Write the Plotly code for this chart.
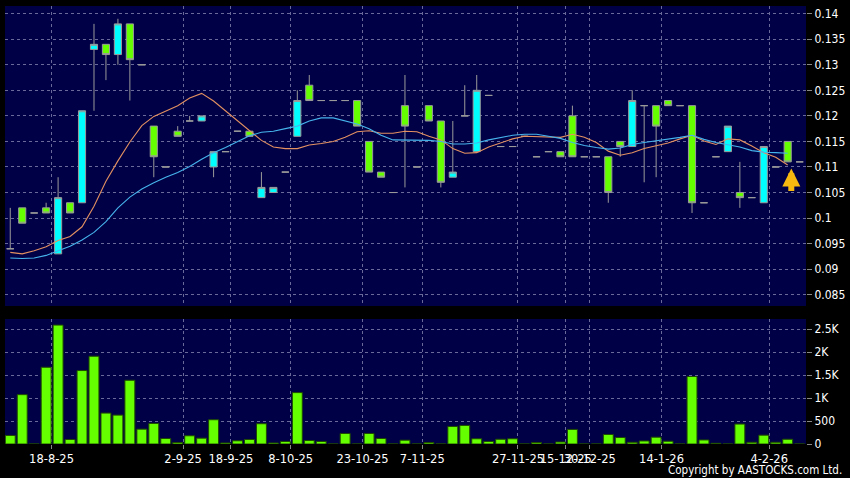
import plotly.graph_objects as go

# ---------------- data ----------------
bars = list(range(1, 68))

opens = [0.094, 0.102, 0.101, 0.102, 0.093, 0.103, 0.103, 0.133, 0.134, 0.132,
         0.138, 0.130, 0.118, 0.110, 0.117, 0.119, 0.119, 0.110, 0.113, 0.117,
         0.117, 0.104, 0.105, 0.109, 0.116, 0.126, 0.123, 0.123, 0.123, 0.123,
         0.115, 0.109, 0.105, 0.122, 0.110, 0.122, 0.119, 0.108, 0.120, 0.113,
         0.124, 0.114, 0.114, 0.116, 0.112, 0.113, 0.113, 0.120, 0.112, 0.112,
         0.112, 0.115, 0.114, 0.122, 0.122, 0.123, 0.122, 0.122, 0.103, 0.112,
         0.113, 0.105, 0.104, 0.103, 0.110, 0.115, 0.111]
highs = [0.102, 0.102, 0.101, 0.103, 0.108, 0.103, 0.121, 0.138, 0.134, 0.139,
         0.138, 0.130, 0.118, 0.110, 0.118, 0.120, 0.120, 0.113, 0.113, 0.117,
         0.117, 0.109, 0.106, 0.109, 0.125, 0.128, 0.123, 0.123, 0.123, 0.123,
         0.115, 0.109, 0.105, 0.128, 0.110, 0.122, 0.119, 0.119, 0.126, 0.128,
         0.124, 0.114, 0.114, 0.116, 0.112, 0.113, 0.113, 0.122, 0.112, 0.112,
         0.112, 0.115, 0.125, 0.122, 0.122, 0.123, 0.122, 0.122, 0.103, 0.112,
         0.118, 0.111, 0.104, 0.114, 0.110, 0.115, 0.111]
lows = [0.094, 0.099, 0.101, 0.101, 0.093, 0.101, 0.103, 0.121, 0.127, 0.130,
        0.123, 0.130, 0.108, 0.110, 0.116, 0.119, 0.119, 0.108, 0.113, 0.117,
        0.116, 0.104, 0.105, 0.109, 0.116, 0.123, 0.123, 0.123, 0.123, 0.118,
        0.109, 0.108, 0.105, 0.106, 0.110, 0.119, 0.106, 0.108, 0.120, 0.113,
        0.124, 0.114, 0.114, 0.116, 0.112, 0.113, 0.112, 0.112, 0.112, 0.112,
        0.103, 0.112, 0.114, 0.107, 0.108, 0.122, 0.122, 0.101, 0.103, 0.112,
        0.113, 0.102, 0.104, 0.103, 0.110, 0.111, 0.111]
closes = [0.094, 0.099, 0.101, 0.101, 0.104, 0.101, 0.121, 0.134, 0.132, 0.138,
          0.131, 0.130, 0.112, 0.110, 0.116, 0.119, 0.120, 0.113, 0.113, 0.117,
          0.116, 0.106, 0.106, 0.109, 0.123, 0.123, 0.123, 0.123, 0.123, 0.118,
          0.109, 0.108, 0.105, 0.118, 0.110, 0.119, 0.107, 0.109, 0.120, 0.125,
          0.124, 0.114, 0.114, 0.116, 0.112, 0.113, 0.112, 0.112, 0.112, 0.112,
          0.105, 0.114, 0.123, 0.122, 0.118, 0.122, 0.122, 0.103, 0.103, 0.112,
          0.118, 0.104, 0.104, 0.114, 0.110, 0.111, 0.111]
volumes = [186, 1074, 0, 1670, 2587, 98, 1598, 1910, 673, 629,
           1387, 323, 448, 120, 33, 179, 127, 528, 22, 70,
           98, 441, 22, 55, 1118, 76, 55, 0, 229, 0,
           229, 120, 0, 83, 0, 33, 0, 382, 404, 114,
           55, 103, 114, 0, 33, 0, 44, 317, 0, 0,
           207, 141, 37, 66, 148, 60, 0, 1469, 88, 15,
           0, 434, 37, 192, 37, 103, 0]
ma_fast = [0.0933, 0.0930, 0.0936, 0.0944, 0.0956, 0.0964, 0.0983, 0.1023, 0.1072, 0.1112,
           0.1149, 0.1181, 0.1199, 0.1210, 0.1220, 0.1235, 0.1244, 0.1229, 0.1210, 0.1190,
           0.1172, 0.1152, 0.1139, 0.1136, 0.1136, 0.1143, 0.1146, 0.1150, 0.1158, 0.1169,
           0.1171, 0.1166, 0.1166, 0.1170, 0.1169, 0.1160, 0.1153, 0.1136, 0.1127, 0.1128,
           0.1139, 0.1147, 0.1155, 0.1160, 0.1159, 0.1159, 0.1158, 0.1164, 0.1158, 0.1148,
           0.1131, 0.1123, 0.1128, 0.1136, 0.1141, 0.1147, 0.1155, 0.1162, 0.1151, 0.1144,
           0.1155, 0.1153, 0.1141, 0.1128, 0.1119, 0.1104, None]
ma_slow = [0.0922, 0.0921, 0.0922, 0.0927, 0.0936, 0.0945, 0.0957, 0.0972, 0.0993, 0.1020,
           0.1041, 0.1057, 0.1069, 0.1080, 0.1089, 0.1101, 0.1115, 0.1128, 0.1138, 0.1150,
           0.1161, 0.1168, 0.1170, 0.1175, 0.1180, 0.1190, 0.1196, 0.1196, 0.1190, 0.1184,
           0.1175, 0.1162, 0.1153, 0.1153, 0.1153, 0.1152, 0.1150, 0.1145, 0.1145, 0.1147,
           0.1153, 0.1158, 0.1162, 0.1164, 0.1164, 0.1160, 0.1156, 0.1148, 0.1142, 0.1138,
           0.1135, 0.1137, 0.1144, 0.1148, 0.1151, 0.1154, 0.1158, 0.1162, 0.1154, 0.1148,
           0.1143, 0.1139, 0.1132, 0.1129, 0.1128, 0.1127, None]

tick_bars = [4, 15, 19, 24, 30, 35, 43, 47, 49, 55, 64]
tick_labels = ["18-8-25", "2-9-25", "18-9-25", "8-10-25", "23-10-25", "7-11-25",
               "27-11-25", "15-12-25", "30-12-25", "14-1-26", "4-2-26"]
price_ticks = [0.085, 0.09, 0.095, 0.1, 0.105, 0.11, 0.115, 0.12, 0.125, 0.13, 0.135, 0.14]
price_tick_labels = ["0.085", "0.09", "0.095", "0.1", "0.105", "0.11", "0.115",
                     "0.12", "0.125", "0.13", "0.135", "0.14"]
vol_ticks = [0, 500, 1000, 1500, 2000, 2500]
vol_tick_labels = ["0", "500", "1K", "1.5K", "2K", "2.5K"]
arrow_bar = 66.3
arrow_price = 0.1097

# ---------------- styling ----------------
BG = "#000046"
GRID = "#6a6a9a"
UP = "#00ffff"
DOWN = "#66ff00"
EDGE = "#9a9a9a"
NARROW = "DejaVu Sans Condensed, Roboto, sans-serif"
tick_pos = [b + 0.45 for b in tick_bars]

fig = go.Figure()

fig.add_trace(go.Candlestick(
    x=bars, open=opens, high=highs, low=lows, close=closes,
    xaxis="x2", yaxis="y",
    increasing=dict(fillcolor=UP, line=dict(color=EDGE, width=1)),
    decreasing=dict(fillcolor=DOWN, line=dict(color=EDGE, width=1)),
    whiskerwidth=0, showlegend=False, hoverinfo="skip",
))
fig.add_trace(go.Scatter(x=bars, y=ma_fast, xaxis="x2", yaxis="y", mode="lines",
                         line=dict(color="#e39161", width=1.1), showlegend=False,
                         hoverinfo="skip"))
fig.add_trace(go.Scatter(x=bars, y=ma_slow, xaxis="x2", yaxis="y", mode="lines",
                         line=dict(color="#46b4ec", width=1.1), showlegend=False,
                         hoverinfo="skip"))
fig.add_trace(go.Bar(x=bars, y=volumes, xaxis="x", yaxis="y2",
                     marker=dict(color=DOWN, line=dict(color="#1f4a00", width=1)),
                     showlegend=False, hoverinfo="skip"))

fig.add_annotation(x=arrow_bar, y=arrow_price, xref="x2", yref="y",
                   ax=0, ay=24, text="", showarrow=True, arrowhead=2,
                   arrowwidth=6, arrowsize=0.6, arrowcolor="#f7b90f")

fig.add_annotation(x=1, y=0, xref="paper", yref="paper", xanchor="right", yanchor="bottom",
                   yshift=-35, xshift=38, text="Copyright by AASTOCKS.com Ltd.",
                   showarrow=False,
                   font=dict(family=NARROW, size=11.5, color="#ffffff"))

xcommon = dict(range=[0.56, 67.53], tickmode="array", tickvals=tick_pos,
               showgrid=True, gridcolor=GRID, griddash="3px,3px", gridwidth=1,
               zeroline=False, showline=False, rangeslider=dict(visible=False))

fig.update_layout(
    width=850, height=478,
    margin=dict(l=5, r=42, t=6, b=34),
    paper_bgcolor="#000000", plot_bgcolor=BG,
    bargap=0.17, boxgap=0.15,
    xaxis=dict(**xcommon, domain=[0, 1], anchor="y2", ticktext=tick_labels,
               ticks="outside", ticklen=4, tickcolor="#888888", tickangle=0,
               tickfont=dict(family="DejaVu Sans", size=11.5, color="#ffffff")),
    xaxis2=dict(**xcommon, domain=[0, 1], anchor="y", matches="x",
                showticklabels=False, ticks=""),
    yaxis=dict(domain=[0.3151, 1], anchor="x2", side="right",
               range=[0.0828, 0.1415], tickmode="array", tickvals=price_ticks,
               ticktext=price_tick_labels, ticks="outside", ticklen=5,
               tickcolor="#888888", showgrid=True, gridcolor=GRID,
               griddash="3px,3px", zeroline=False, showline=False,
               tickfont=dict(family=NARROW, size=12, color="#ffffff")),
    yaxis2=dict(domain=[0, 0.2854], anchor="x", side="right",
                range=[0, 2720], tickmode="array", tickvals=vol_ticks,
                ticktext=vol_tick_labels, ticks="outside", ticklen=5,
                tickcolor="#888888", showgrid=True, gridcolor=GRID,
                griddash="3px,3px", zeroline=False, showline=False,
                tickfont=dict(family=NARROW, size=12, color="#ffffff")),
)

fig.write_html(
    "out.html",
    config={"displayModeBar": False},
    post_script="document.body.style.margin='0';document.body.style.overflow='hidden';"
                "document.body.style.background='#000000';",
)
